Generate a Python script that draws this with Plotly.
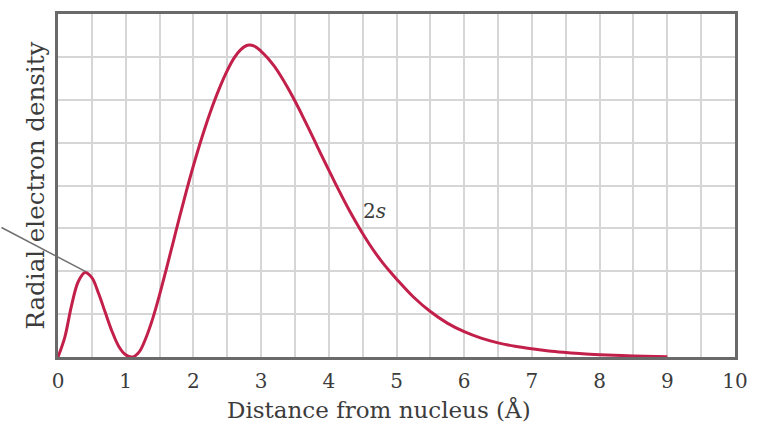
import plotly.graph_objects as go

# Distance from nucleus (Å)
distance = [0.0, 0.1, 0.2, 0.3, 0.4, 0.5, 0.6, 0.7, 0.8, 0.9, 1.0, 1.1, 1.2, 1.3,
            1.4, 1.5, 1.6, 1.7, 1.8, 1.9, 2.0, 2.1, 2.2, 2.3, 2.4, 2.5, 2.6, 2.7,
            2.8, 2.9, 3.0, 3.1, 3.2, 3.3, 3.4, 3.5, 3.6, 3.7, 3.8, 3.9, 4.0, 4.1,
            4.2, 4.3, 4.4, 4.5, 4.6, 4.7, 4.8, 4.9, 5.0, 5.25, 5.5, 5.75, 6.0,
            6.25, 6.5, 6.75, 7.0, 7.25, 7.5, 7.75, 8.0, 8.5, 9.0]
# Radial electron density (arbitrary units, grid rows 0..8)
density = [0.0, 0.46, 1.2, 1.76, 1.97, 1.85, 1.48, 1.03, 0.59, 0.24, 0.05, 0.0, 0.12, 0.45,
           0.90, 1.45, 2.05, 2.67, 3.29, 3.89, 4.46, 4.99, 5.48, 5.93, 6.33, 6.68, 6.97, 7.17,
           7.27, 7.25, 7.13, 6.97, 6.77, 6.53, 6.26, 5.97, 5.66, 5.34, 5.01, 4.68, 4.36, 4.04,
           3.73, 3.43, 3.15, 2.88, 2.63, 2.40, 2.19, 2.00, 1.82, 1.40, 1.06, 0.79, 0.59,
           0.44, 0.33, 0.25, 0.19, 0.14, 0.105, 0.075, 0.055, 0.025, 0.005]
x_ticks = [0, 1, 2, 3, 4, 5, 6, 7, 8, 9, 10]
x_tick_labels = [str(t) for t in x_ticks]

FONT = "DejaVu Serif"
TXT = "#3c3c3c"

fig = go.Figure()
fig.add_trace(go.Scatter(
    x=distance, y=density, mode="lines",
    line=dict(color="#c2204a", width=3, shape="spline", smoothing=1.0),
    hoverinfo="skip", showlegend=False,
))

fig.update_layout(
    width=771, height=437,
    margin=dict(l=58, r=36, t=11, b=80),
    paper_bgcolor="white", plot_bgcolor="white",
    font=dict(family=FONT, color=TXT),
    xaxis=dict(
        range=[0, 10], tickmode="array", tickvals=x_ticks, ticktext=x_tick_labels,
        showgrid=True, gridcolor="#d6d6d6", gridwidth=2,
        minor=dict(dtick=0.5, showgrid=True, gridcolor="#d6d6d6", gridwidth=2),
        showline=True, mirror=True, linecolor="#6a6a6a", linewidth=3,
        ticks="", tickfont=dict(family=FONT, size=20, color=TXT),
        ticklabelstandoff=4, zeroline=False, fixedrange=True,
    ),
    yaxis=dict(
        range=[0, 8], dtick=1, showticklabels=False,
        showgrid=True, gridcolor="#d6d6d6", gridwidth=2,
        showline=True, mirror=True, linecolor="#6a6a6a", linewidth=3,
        ticks="", zeroline=False, fixedrange=True,
    ),
    annotations=[
        dict(text="Distance from nucleus (Å)", xref="paper", yref="paper",
             x=(379 - 58) / 677, y=-(410 - 357) / 346, xanchor="center", yanchor="middle",
             showarrow=False, font=dict(family=FONT, size=23, color=TXT)),
        dict(text="Radial electron density", xref="paper", yref="paper",
             x=-(58 - 35) / 677, y=0.5, xanchor="center", yanchor="middle", textangle=-90,
             showarrow=False, font=dict(family=FONT, size=24.5, color=TXT)),
        dict(text="2<i>s</i>", x=4.68, y=3.4, xref="x", yref="y",
             showarrow=False, font=dict(family=FONT, size=20, color=TXT)),
        dict(text="", x=0.41, y=1.99, xref="x", yref="y",
             showarrow=True, arrowhead=0, arrowwidth=1.5, arrowcolor="#707070",
             ax=-86, ay=-45, standoff=0),
    ],
)

fig.write_html("out.html")
